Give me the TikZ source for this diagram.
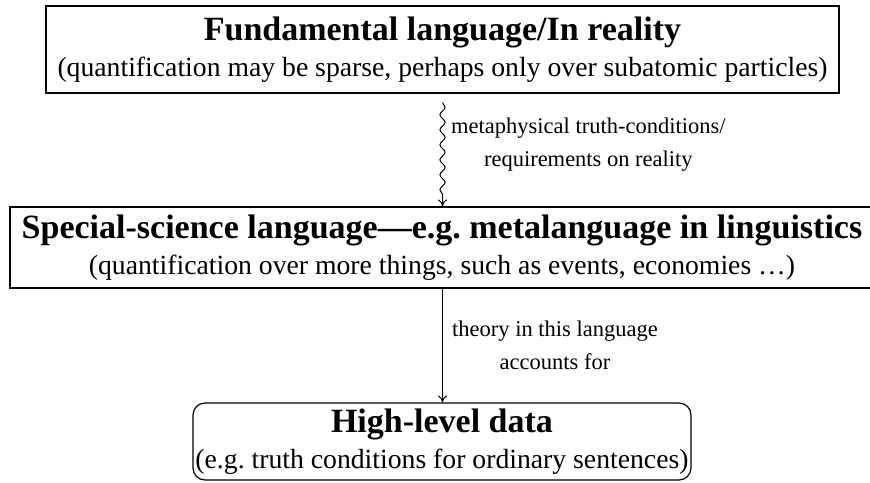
\documentclass[tikz,border=0pt]{standalone}
\usepackage{fontspec}
\setmainfont{Liberation Serif}
\usetikzlibrary{arrows.meta}
\usetikzlibrary{decorations.pathmorphing}
\usetikzlibrary{positioning}

\tikzset{
  level/.style={draw, line width=1.2pt, align=center, inner sep=0pt,
    font=\fontsize{27.7}{36}\selectfont},
  datum/.style={level, rounded corners=12pt},
  gloss/.style={align=center, anchor=north west, inner sep=0pt,
    font=\fontsize{22.5}{33}\selectfont},
  wavy/.style={-{To[length=7pt,width=9pt]}, line width=1pt, decorate,
    decoration={snake, amplitude=2.6pt, segment length=15pt, post length=6pt}},
  plain/.style={-{To[length=7pt,width=9pt]}, line width=1pt}
}
\newcommand{\head}[1]{{\fontsize{34}{36}\selectfont\bfseries #1}}

\begin{document}
\begin{tikzpicture}[x=1pt,y=-1pt]
\useasboundingbox (0,0) rectangle (870,482);
\coordinate (axis) at (442.5,0);
% the three levels
\node[level, minimum width=793pt, minimum height=87pt] (real) at (442.5,49.5)
  {\head{Fundamental language/In reality}\\
   (quantification may be sparse, perhaps only over subatomic particles)};
\node[level, minimum width=864pt, minimum height=81pt] (special) at (442,247.5)
  {\head{Special-science language---e.g.\ metalanguage in linguistics}\\
   (quantification over more things, such as events, economies …)};
\node[datum, minimum width=498pt, minimum height=77pt] (data) at (442,441.5)
  {\head{High-level data}\\
   (e.g.\ truth conditions for ordinary sentences)};
% connectors
\path (real.south -| axis) ++(0,9) coordinate (wavetop);
\draw[wavy] (wavetop) -- (special.north -| axis);
\draw[plain] (special.south -| axis) -- (data.north -| axis);
\node[gloss] (meta) at (451,117.6) {metaphysical truth-conditions/\\requirements on reality};
\node[gloss] (theory) at (452,320.6) {theory in this language\\accounts for};
\end{tikzpicture}
\end{document}
